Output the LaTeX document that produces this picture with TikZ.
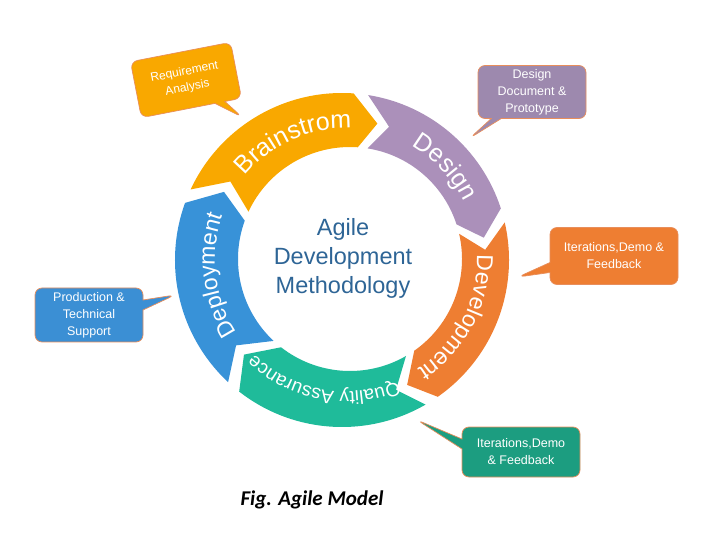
\documentclass[tikz,border=0pt]{standalone}
\usepackage{fontspec}
\setmainfont{Liberation Sans}
\newfontfamily\figfont{Carlito}
\usepackage{xcolor}
\usepackage{tikz}
\usetikzlibrary{calc, decorations.text, shapes.callouts}

\definecolor{brainC}{RGB}{249,168,0}
\definecolor{designC}{RGB}{171,144,186}
\definecolor{devC}{RGB}{238,126,50}
\definecolor{qaC}{RGB}{31,187,154}
\definecolor{deployC}{RGB}{56,146,216}
\definecolor{designBox}{RGB}{157,137,174}
\definecolor{qaBox}{RGB}{28,157,128}
\definecolor{deployBox}{RGB}{59,143,212}
\definecolor{boxEdge}{RGB}{232,142,92}
\definecolor{agileText}{RGB}{46,101,150}

\newcommand\bandsize[1]{\fontsize{#1}{#1}\selectfont}

\begin{document}
\begin{tikzpicture}[x=1pt, y=1pt,
    note/.style={rectangle callout, draw=boxEdge, line width=0.7pt, rounded corners=7pt,
        text=white, align=center, inner sep=2pt, callout pointer width=10pt,
        font=\fontsize{12.5}{17}\selectfont}]

    \useasboundingbox (0,0) rectangle (710,547);

    \coordinate (O) at (342,287);
    \coordinate (I) at (350,288);
    \coordinate (M) at (346,287.5);

    % ring of arrows, clockwise
    \foreach \col/\a/\b in {brainC/155/86, designC/81/18, devC/13/-55, qaC/-60/-128, deployC/-133/-200}
    \fill[\col] ($(O)+(\a:167pt)$) arc[start angle=\a, end angle=\b, radius=167pt]
        -- ($(M)+({\b-9}:139.5pt)$) -- ($(I)+(\b:112pt)$)
        arc[start angle=\b, end angle=\a, radius=112pt]
        -- ($(M)+({\a-9}:139.5pt)$) -- cycle;

    % labels along the ring
    \path[decorate, decoration={text along path, text align=center, text color=white,
        text={|\bandsize{25}|Brainstrom}}]
        ($(M)+(184:131pt)$) arc[start angle=184, end angle=44, radius=131pt];
    \path[decorate, decoration={text along path, text align=center, text color=white,
        text={|\bandsize{25}|Design}}]
        ($(M)+(113:131pt)$) arc[start angle=113, end angle=-27, radius=131pt];
    \path[decorate, decoration={text along path, text align=center, text color=white,
        text={|\bandsize{23}|Development}}]
        ($(M)+(42.5:131pt)$) arc[start angle=42.5, end angle=-97.5, radius=131pt];
    \path[decorate, decoration={text along path, text align=center, text color=white,
        text={|\bandsize{19}|Quality Assurance}}]
        ($(M)+(-30.5:132pt)$) arc[start angle=-30.5, end angle=-170.5, radius=132pt];
    \path[decorate, decoration={text along path, text align=center, text color=white,
        text={|\bandsize{23}|Deployment}}]
        ($(M)+(-103:131pt)$) arc[start angle=-103, end angle=-243, radius=131pt];

    \node[text=agileText, align=center, font=\fontsize{23.5}{29}\selectfont] (agile) at (343,289)
        {Agile\\Development\\Methodology};

    % callouts
    \coordinate (reqTip) at (242,430);
    \coordinate (designTip) at (470,409);
    \coordinate (devTip) at (518,270);
    \coordinate (qaTip) at (417,127);
    \coordinate (deployTip) at (175,252);

    \node[note, fill=brainC, rotate=11, minimum width=102pt, minimum height=57pt,
        callout absolute pointer={(reqTip)}, font=\fontsize{12}{16}\selectfont] (req) at (186,467)
        {Requirement\\Analysis};
    \node[note, fill=designBox, minimum width=108pt, minimum height=53pt,
        callout absolute pointer={(designTip)}] (designNote) at (532,455)
        {Design\\Document \&\\Prototype};
    \node[note, fill=devC, minimum width=128pt, minimum height=57pt,
        callout absolute pointer={(devTip)}] (devNote) at (614,291)
        {Iterations,Demo \&\\Feedback};
    \node[note, fill=qaBox, minimum width=118pt, minimum height=50pt,
        callout absolute pointer={(qaTip)}] (qaNote) at (521,95)
        {Iterations,Demo\\\& Feedback};
    \node[note, fill=deployBox, minimum width=108pt, minimum height=54pt,
        callout absolute pointer={(deployTip)}] (deployNote) at (89,232)
        {Production \&\\Technical\\Support};

    \node[font=\figfont\bfseries\itshape\fontsize{21}{24}\selectfont] (fig) at (312,47) {Fig. Agile Model};
\end{tikzpicture}
\end{document}
